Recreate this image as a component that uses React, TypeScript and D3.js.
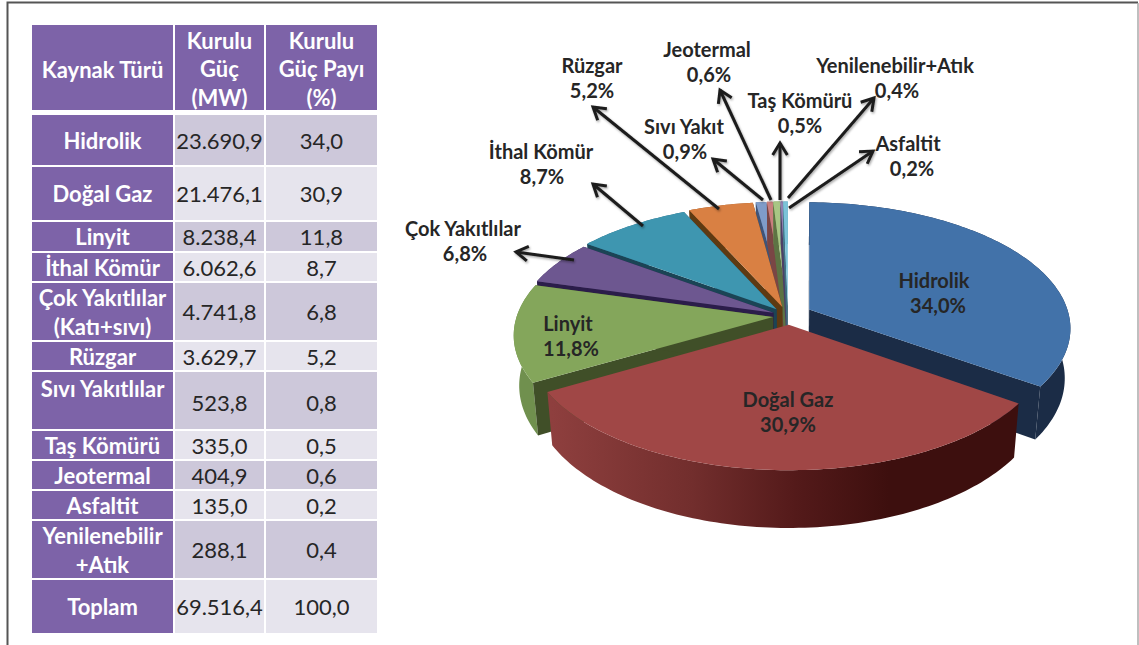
import React from "react";
import * as d3 from "d3";

// ---- table data ----
const sourceLabels = [["Hidrolik"],["Doğal Gaz"],["Linyit"],["İthal Kömür"],["Çok Yakıtlılar","(Katı+sıvı)"],["Rüzgar"],["Sıvı Yakıtlılar"],["Taş Kömürü"],["Jeotermal"],["Asfaltit"],["Yenilenebilir","+Atık"],["Toplam"]];
const capacityMW = ["23.690,9","21.476,1","8.238,4","6.062,6","4.741,8","3.629,7","523,8","335,0","404,9","135,0","288,1","69.516,4"];
const sharePct = ["34,0","30,9","11,8","8,7","6,8","5,2","0,8","0,5","0,6","0,2","0,4","100,0"];
const headers = [["Kaynak Türü"],["Kurulu","Güç","(MW)"],["Kurulu","Güç Payı","(%)"]];

// ---- pie data (clockwise from 12 o'clock) ----
const pieNames = ["Hidrolik","Doğal Gaz","Linyit","Çok Yakıtlılar","İthal Kömür","Rüzgar","Sıvı Yakıt","Taş Kömürü","Jeotermal","Asfaltit","Yenilenebilir+Atık"];
const pieValues = [34.0,30.9,11.8,6.8,8.7,5.2,0.9,0.5,0.6,0.2,0.4];
const pieLabels = ["34,0%","30,9%","11,8%","6,8%","8,7%","5,2%","0,9%","0,5%","0,6%","0,2%","0,4%"];

// ---- styles ----
const topColors = ["#4272A9","#A04746","#84A65B","#6D5790","#3E96B0","#D98043","#7F9CC9","#C97F7E","#A8C684","#9080B0","#7CC3D8"];
const edgeColors = ["#1B2C46","#3D0F0E","#404F28","#2B1D4A","#1B4455","#5E3A12","#3F5478","#7A4645","#5D7343","#4C4066","#3F7182"];
const rimColors = ["#1B2C46","url(#redRim)","#70904E","#4A3A66","#2A6A80","#9A5A2C","#55709A","#955A59","#7A9658","#65558A","#5598AE"];
const explode = [0.095,0.08,0.06,0.06,0.065,0.07,0.07,0.07,0.07,0.07,0.07];
const radialScale = [1.015,1,1,1,1,1,1,1,1,1,1];
const showEdges = [true,false,true,true,true,true,true,true,true,true,true];
const paintOrder = [6,7,8,9,10,5,4,3,0,2,1];

// ---- layout ----
const colEdges = [[32,173],[175,264],[266,377]];
const headerBand: [number, number] = [25,110];
const rowBands = [[115,165],[167,220],[222,251],[253,281],[283,340],[342,370],[372,429],[431,459],[461,489],[491,519],[521,578],[580,633]];
const rowDark = [1,0,1,0,1,0,1,0,1,0,1,0];
const FONT = "Lato, 'Open Sans', sans-serif";
const cx = 788, cy = 315, Rx = 256, Ry = 122, K = 0.14, H = 49;
// perspective correction of the view: angle on the page for an angle on the disc (degrees)
const viewAngle = d3.scaleLinear()
  .domain([0,122.4,233.6,276,300.6,332,350.6,360])
  .range([0.7,125.4,240,285.5,306,335.5,352.2,360]);

const project = (u:number, v:number, low:boolean):[number,number] => {
  const p = 1/(1+K*v);
  const x = Rx*u*p*(low?0.98:1);
  const y = -Ry*v*p + (low?H*p:0);
  return [cx+x, cy+y];
};

const arcs = d3.pie<number>().sort(null).startAngle(0).endAngle(2*Math.PI)(pieValues);
const line = d3.line();

function sliceParts(i:number){
  const a = arcs[i];
  const mid = (a.startAngle+a.endAngle)/2;
  const ou = explode[i]*Math.sin(mid), ov = explode[i]*Math.cos(mid);
  const n = Math.max(4, Math.ceil((a.endAngle-a.startAngle)/0.02));
  const angs = d3.range(n+1).map(k=>{
    const t = a.startAngle+(a.endAngle-a.startAngle)*k/n;
    return viewAngle(t*180/Math.PI)*Math.PI/180;
  });
  const r = radialScale[i];
  const rim = (low:boolean)=>angs.map(t=>project(ou+r*Math.sin(t),ov+r*Math.cos(t),low));
  const apexT = project(ou,ov,false), apexB = project(ou,ov,true);
  const top = rim(false), bottom = rim(true);
  return {
    top: line([apexT,...top])+"Z",
    wall: line([...top,...bottom.slice().reverse()])+"Z",
    edgeA: line([apexT,top[0],bottom[0],apexB])+"Z",
    edgeB: line([apexT,top[n],bottom[n],apexB])+"Z",
  };
}

const arrows: [number,number,number,number][] = [
  [719,209,593,107],[771,200,720,90],[763,200,713,159],[780,200,780,143],
  [788,198,874,98],[789,208,873,151],[643,226,593,184],[574,260,516,252],
];
const outsideLabels: {t:string[],x:number[],y:number}[] = [
  {t:["Rüzgar","5,2%"],x:[592,592],y:65},
  {t:["Jeotermal","0,6%"],x:[707,709],y:49},
  {t:["Sıvı Yakıt","0,9%"],x:[684,685],y:126},
  {t:["İthal Kömür","8,7%"],x:[541,542],y:151},
  {t:["Çok Yakıtlılar","6,8%"],x:[463,465],y:228},
  {t:["Taş Kömürü","0,5%"],x:[800,800],y:100},
  {t:["Yenilenebilir+Atık","0,4%"],x:[895,897],y:65},
  {t:["Asfaltit","0,2%"],x:[908,912],y:143},
];
const insideLabels: {t:string[],x:number[],y:number}[] = [
  {t:["Hidrolik","34,0%"],x:[934,938],y:280},
  {t:["Doğal Gaz","30,9%"],x:[788,788],y:399},
  {t:["Linyit","11,8%"],x:[568,571],y:323},
];

function arrowHead([x1,y1,x2,y2]:[number,number,number,number]){
  const ang = Math.atan2(y2-y1,x2-x1), L=14, S=0.55;
  const a:[number,number]=[x2-L*Math.cos(ang-S),y2-L*Math.sin(ang-S)];
  const b:[number,number]=[x2-L*Math.cos(ang+S),y2-L*Math.sin(ang+S)];
  return line([a,[x2,y2],b])!;
}

function Lines({lines,x,cy:c,size,fill,lh,weight}:{lines:string[],x:number,cy:number,size:number,fill:string,lh:number,weight:number}){
  const start = c-(lines.length-1)*lh/2;
  return <>{lines.map((l,i)=><text key={i} x={x} y={start+i*lh} textAnchor="middle" dominantBaseline="central" fontFamily={FONT} fontSize={size} fontWeight={weight} fill={fill}>{l}</text>)}</>;
}

export default function App(){
  const tw = (c:number)=>(colEdges[c][0]+colEdges[c][1])/2;
  return (
    <svg width={1139} height={645} style={{position:"absolute",left:0,top:0,background:"#fff"}}>
      <defs>
        <linearGradient id="redRim" gradientUnits="userSpaceOnUse" x1={552} x2={1020} y1={0} y2={0}>
          <stop offset="0" stopColor="#8E3F3E"/>
          <stop offset="0.3" stopColor="#722E2D"/>
          <stop offset="0.52" stopColor="#541A1A"/>
          <stop offset="0.72" stopColor="#3D0F0E"/>
          <stop offset="1" stopColor="#3D0F0E"/>
        </linearGradient>
        <filter id="arrowShadow" x="-30%" y="-30%" width="160%" height="160%">
          <feDropShadow dx="1" dy="1.5" stdDeviation="1.2" floodColor="#000" floodOpacity="0.35"/>
        </filter>
      </defs>
      <path d="M7.5 645V2.5H1138" fill="none" stroke="#555" strokeWidth={2}/>
      <line x1={1138} x2={1138} y1={3} y2={645} stroke="#aaa" strokeWidth={1.5}/>

      {/* table */}
      {headers.map((h,c)=><g key={c}>
        <rect x={colEdges[c][0]} y={headerBand[0]} width={colEdges[c][1]-colEdges[c][0]} height={headerBand[1]-headerBand[0]} fill="#7D63A8"/>
        <Lines lines={h} x={tw(c)} cy={(headerBand[0]+headerBand[1])/2+(c===0?2:1)} size={22} fill="#fff" lh={28.5} weight={700}/>
      </g>)}
      {rowBands.map((r,i)=><g key={i}>
        <rect x={colEdges[0][0]} y={r[0]} width={colEdges[0][1]-colEdges[0][0]} height={r[1]-r[0]} fill="#7D63A8"/>
        <rect x={colEdges[1][0]} y={r[0]} width={colEdges[1][1]-colEdges[1][0]} height={r[1]-r[0]} fill={rowDark[i]?"#CDC8DA":"#E6E4ED"}/>
        <rect x={colEdges[2][0]} y={r[0]} width={colEdges[2][1]-colEdges[2][0]} height={r[1]-r[0]} fill={rowDark[i]?"#CDC8DA":"#E6E4ED"}/>
        <Lines lines={sourceLabels[i]} x={tw(0)} cy={i===6?r[0]+16:(r[0]+r[1])/2} size={22} fill="#fff" lh={29} weight={700}/>
        <Lines lines={[capacityMW[i]]} x={tw(1)} cy={(r[0]+r[1])/2+(i===6?2:0)} size={22} fill="#262626" lh={29} weight={400}/>
        <Lines lines={[sharePct[i]]} x={tw(2)} cy={(r[0]+r[1])/2+(i===6?2:0)} size={22} fill="#262626" lh={29} weight={400}/>
      </g>)}

      {/* pie */}
      {paintOrder.map(i=>{
        const s = sliceParts(i);
        return <g key={i}>
          <path d={s.wall} fill={rimColors[i]}/>
          {showEdges[i] && <path d={s.edgeA} fill={edgeColors[i]}/>}
          {showEdges[i] && <path d={s.edgeB} fill={edgeColors[i]}/>}
          <path d={s.top} fill={topColors[i]}/>
        </g>;
      })}

      {/* leaders */}
      <g fill="none" stroke="#1C1C1C" strokeWidth={3} filter="url(#arrowShadow)">
        {arrows.map((a,i)=><g key={i}>
          <line x1={a[0]} y1={a[1]} x2={a[2]} y2={a[3]}/>
          <path d={arrowHead(a)}/>
        </g>)}
      </g>

      {[...outsideLabels,...insideLabels].map((l,i)=><g key={i}>
        {l.t.map((s,k)=><text key={k} x={l.x[k]} y={l.y+k*25} textAnchor="middle" dominantBaseline="central" fontFamily={FONT} fontSize={20} fontWeight={700} fill="#262626">{s}</text>)}
      </g>)}
    </svg>
  );
}
